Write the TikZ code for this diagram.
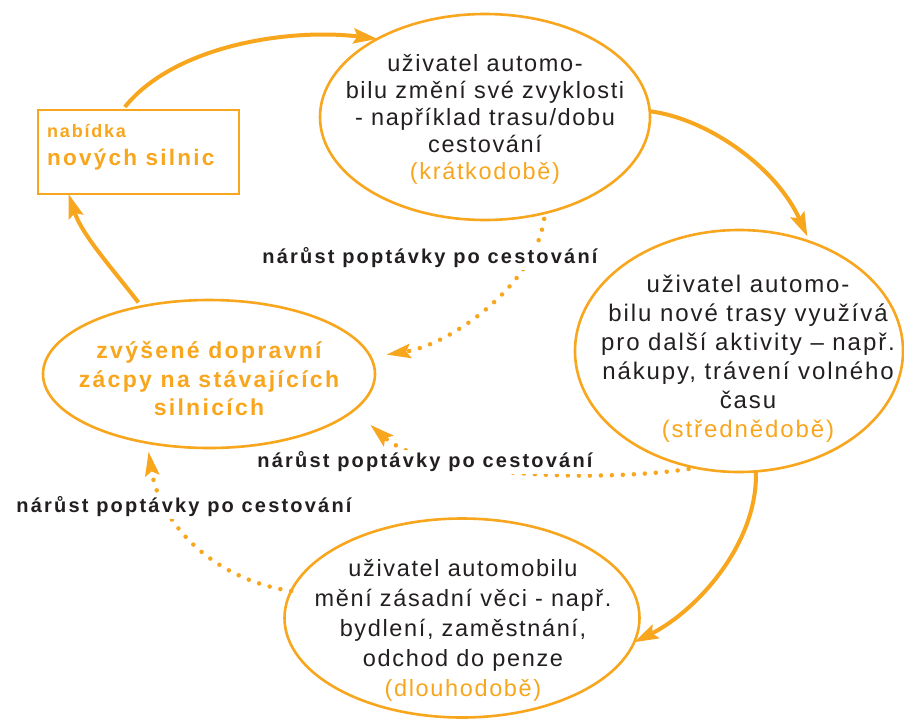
\documentclass[tikz,border=0pt]{standalone}
\usepackage{fontspec}
\setmainfont{Liberation Sans}
\newfontfamily\ls[LetterSpace=7]{Liberation Sans}
\newfontfamily\lsw[LetterSpace=8]{Liberation Sans}
\newfontfamily\lsc[LetterSpace=10]{Liberation Sans}
\newfontfamily\lsl[LetterSpace=11]{Liberation Sans}
\usetikzlibrary{shapes.geometric,arrows.meta}
\definecolor{org}{RGB}{247,166,30}
\definecolor{ink}{RGB}{35,31,32}
\begin{document}
\begin{tikzpicture}[x=1pt,y=-1pt,
  ell/.style={draw=org,line width=2.6pt,ellipse,inner sep=0pt,outer sep=0pt},
  txt/.style={align=center,text=ink,inner sep=0pt},
  flow/.style={draw=org,line width=4pt,-{Stealth[length=24pt,width=15pt,inset=4pt]}},
  dots/.style={draw=org,line width=4.5pt,line cap=round,dash pattern=on 0pt off 11pt,-{Stealth[length=24pt,width=14pt,inset=4pt]}},
  lab/.style={fill=white,inner sep=2pt,text=ink,font=\lsl\bfseries\fontsize{20}{22}\selectfont}]
\useasboundingbox (0,0) rectangle (904,718);
\fill[white] (0,0) rectangle (904,718);

% box
\node[draw=org,line width=2.6pt,minimum width=201pt,minimum height=84pt,inner sep=0pt,outer sep=0pt] (box) at (138.5,152) {};
\node[anchor=base west,inner sep=0pt,text=org,font=\lsc\bfseries\fontsize{18}{20}\selectfont] (boxa) at (47,137) {nabídka};
\node[anchor=base west,inner sep=0pt,text=org,font=\lsc\bfseries\fontsize{22.5}{26}\selectfont] (boxb) at (47,165) {nových silnic};

% ellipses
\node[ell,minimum width=330pt,minimum height=206pt] (top) at (485,117) {};
\node[txt,font=\ls\fontsize{23.5}{27}\selectfont] (ttop) at (485,119) {uživatel automo-\\bilu změní své zvyklosti\\- například trasu/dobu\\cestování\\{\color{org}(krátkodobě)}};

\node[ell,minimum width=328pt,minimum height=242pt] (right) at (739,351) {};
\node[txt,font=\lsw\fontsize{24}{29}\selectfont] (tright) at (748,359) {uživatel automo-\\bilu nové trasy využívá\\pro další aktivity – např.\\nákupy, trávení volného\\času\\{\color{org}(střednědobě)}};

\node[ell,minimum width=332pt,minimum height=148pt] (left) at (209,374) {};
\node[txt,text=org,font=\lsc\bfseries\fontsize{23}{28.5}\selectfont] (tleft) at (209,379) {zvýšené dopravní\\zácpy na stávajících\\silnicích};

\node[ell,minimum width=355pt,minimum height=199pt] (bot) at (462,618) {};
\node[txt,font=\ls\fontsize{23.5}{30}\selectfont] (tbot) at (463,630) {uživatel automobilu\\mění zásadní věci - např.\\bydlení, zaměstnání,\\odchod do penze\\{\color{org}(dlouhodobě)}};

% solid cycle arrows
\draw[flow,shorten <=4pt] (box.111) .. controls (175,45) and (290,28) .. (top.144);
\draw[flow,shorten >=6pt] (top.2) .. controls (705,118) and (775,165) .. (right.57);
\draw[flow] (right.-82) .. controls (758,545) and (695,612) .. (bot.-8);
\draw[flow,shorten <=5pt] (left.135) .. controls (112,268) and (82,235) .. (box.211);

% dotted arrows
\draw[dots,shorten <=6pt,shorten >=16pt] (top.-58) .. controls (535,285) and (450,345) .. (left.6);
\draw[dots,shorten <=8pt,shorten >=22pt] (right.250) .. controls (600,482) and (430,478) .. (left.-14);
\draw[dots,shorten >=9pt] (bot.171) .. controls (215,580) and (160,525) .. (left.228);

% labels
\node[lab] (l1) at (430,258) {nárůst poptávky po cestování};
\node[lab] (l2) at (425,462) {nárůst poptávky po cestování};
\node[lab] (l3) at (184,507) {nárůst poptávky po cestování};
\end{tikzpicture}
\end{document}
